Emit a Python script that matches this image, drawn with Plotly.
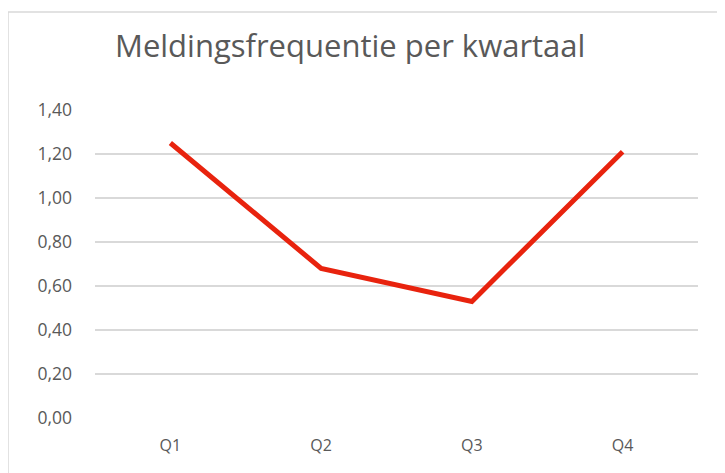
import plotly.graph_objects as go

categories = ["Q1", "Q2", "Q3", "Q4"]
values = [1.25, 0.68, 0.53, 1.21]
tick_vals = [0, 0.2, 0.4, 0.6, 0.8, 1.0, 1.2, 1.4]
tick_text = ["0,00", "0,20", "0,40", "0,60", "0,80", "1,00", "1,20", "1,40"]
title_text = "Meldingsfrequentie per kwartaal"

# page body has an 8px margin; work in window pixels and shift
OFF = 8
W, H = 725 - OFF, 473 - OFF
L, R, T, B = 95 - OFF, 27, 110 - OFF, 55
pw, ph = W - L - R, H - T - B

def px_x(x):
    return (x - OFF - L) / pw

def px_y(y):
    return (H - B - (y - OFF)) / ph

fig = go.Figure()
fig.add_trace(go.Scatter(
    x=categories, y=values, mode="lines",
    line=dict(color="#E8230E", width=5),
    hoverinfo="skip", showlegend=False,
))

fig.update_layout(
    width=W, height=H,
    margin=dict(l=L, r=R, t=T, b=B, pad=0),
    paper_bgcolor="white", plot_bgcolor="white",
    font=dict(family="Open Sans, sans-serif", color="#595959"),
    xaxis=dict(range=[-0.5, 3.5], showgrid=False, zeroline=False, showline=False,
               ticks="", tickfont=dict(size=16, color="#595959"),
               ticklabelstandoff=16, fixedrange=True),
    yaxis=dict(range=[0, 1.4], tickvals=tick_vals, ticktext=tick_text,
               showgrid=True, gridcolor="#D9D9D9", gridwidth=1.5,
               zeroline=False, showline=False, ticks="",
               tickfont=dict(size=17.5, color="#595959"), ticklabelstandoff=22,
               fixedrange=True),
    annotations=[dict(text=title_text, xref="paper", yref="paper",
                      x=px_x(350), y=px_y(45), xanchor="center", yanchor="middle",
                      showarrow=False, font=dict(size=31, color="#595959",
                                                 family="Open Sans, sans-serif"))],
    shapes=[
        dict(type="line", xref="paper", yref="paper", x0=px_x(8), x1=px_x(740),
             y0=px_y(12), y1=px_y(12), line=dict(color="#D9D9D9", width=1.5)),
        dict(type="line", xref="paper", yref="paper", x0=px_x(8), x1=px_x(8),
             y0=px_y(12), y1=px_y(490), line=dict(color="#D9D9D9", width=1.5)),
    ],
)

fig.write_html("out.html", config={"displayModeBar": False})
